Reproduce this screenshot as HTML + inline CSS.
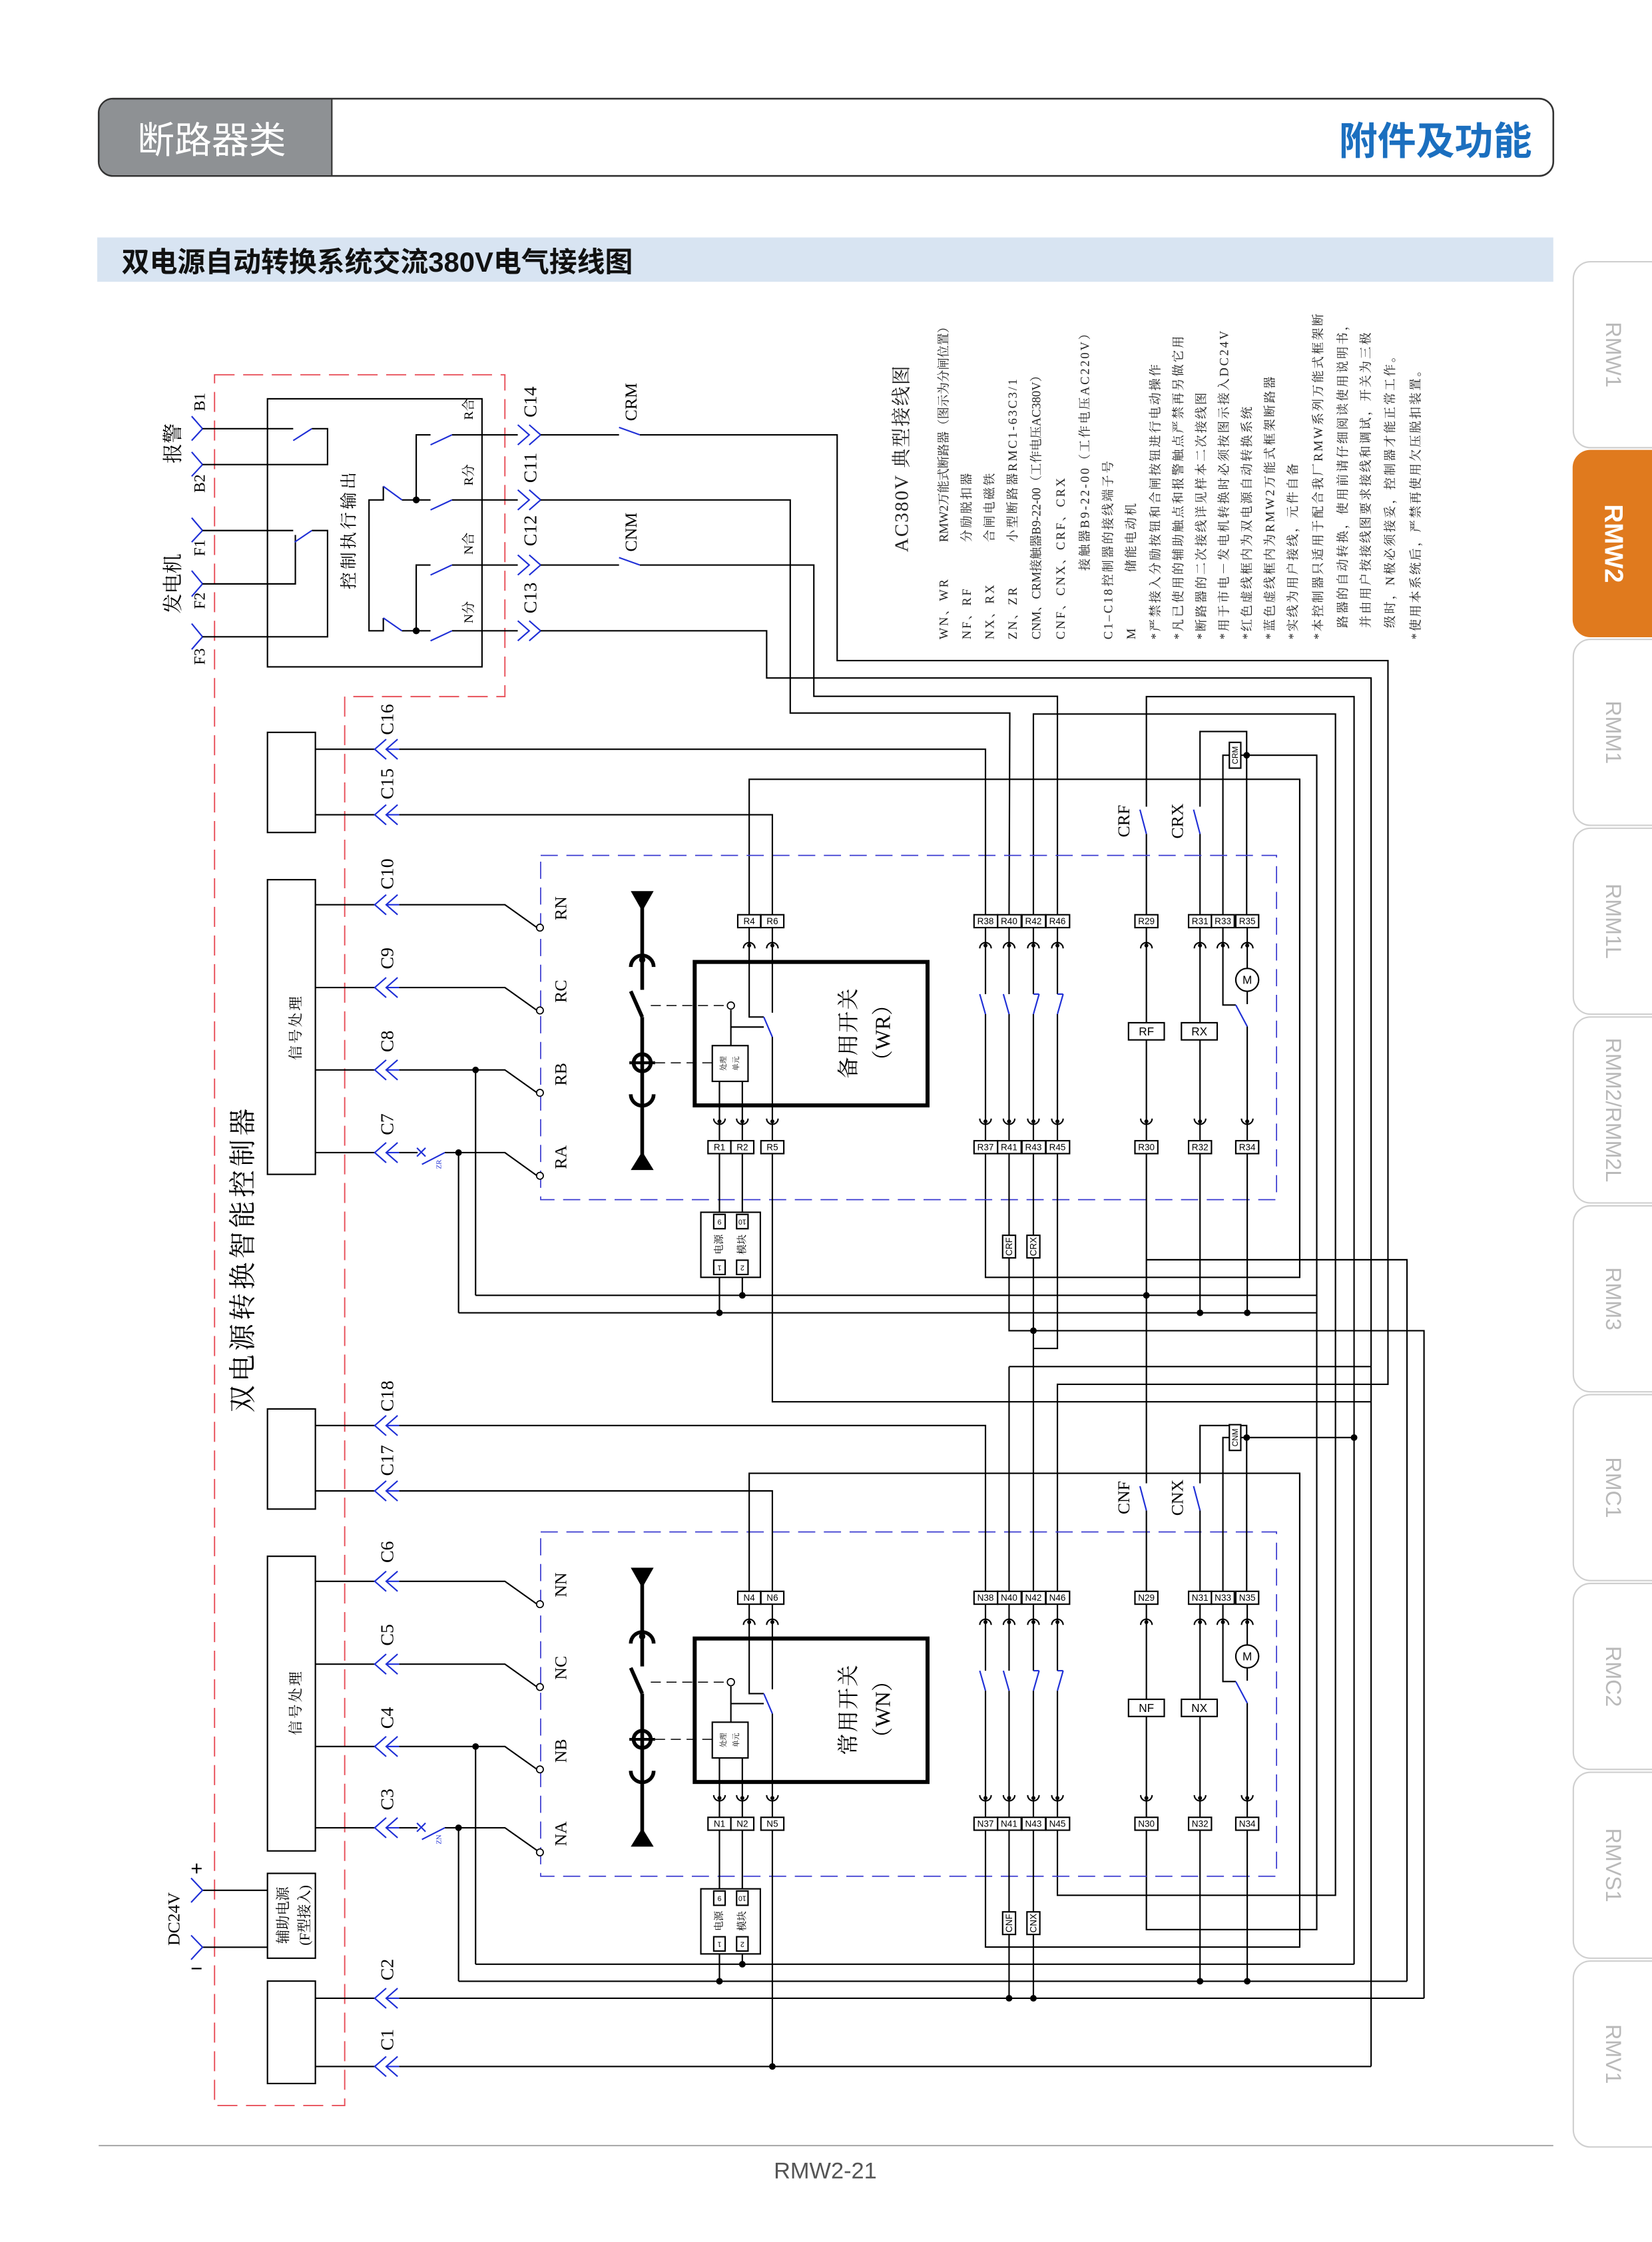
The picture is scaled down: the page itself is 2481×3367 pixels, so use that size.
<!DOCTYPE html>
<html><head><meta charset="utf-8"><style>
html,body{margin:0;padding:0;background:#fff;}
svg{display:block;}
.k{stroke:#000;stroke-width:1;fill:none}
.kw{stroke:#000;stroke-width:1;fill:#fff}
.bl{stroke:#1f2fd6;stroke-width:1;fill:none}
.bd{stroke:#3a3ad0;stroke-width:0.8;fill:none;stroke-dasharray:12 6}
.rd{stroke:#e8505a;stroke-width:0.9;fill:none;stroke-dasharray:14 6}
.se{font-family:"Liberation Serif","Noto Serif CJK SC",serif}
.sa{font-family:"Liberation Sans","Noto Sans CJK SC",sans-serif}
.tl{font-family:"Liberation Sans",sans-serif;font-size:6.3px;text-anchor:middle;dominant-baseline:central}
.ls{letter-spacing:1.3px}
</style></head><body>
<svg width="2481" height="3367" viewBox="0 0 1155 1567.4" preserveAspectRatio="none" xmlns="http://www.w3.org/2000/svg">
<defs>
<g id="tt"><path class="k" d="M-4,4 a4,4 0 0 1 8,0"/><circle cx="0" cy="2" r="1.4" fill="#000"/></g>
<g id="tb"><path class="k" d="M-4,-4 a4,4 0 0 0 8,0"/><circle cx="0" cy="-2" r="1.4" fill="#000"/></g>
<g id="chev"><polyline class="bl" points="8,-7 0,0 8,7"/><polyline class="bl" points="16,-7 8,0 16,7"/><line class="bl" x1="8" y1="0" x2="17" y2="0"/></g>
<g id="sec">
<rect class="bd" x="378" y="598" width="514.5" height="240.7"/>
<g fill="#fff" stroke="#000" stroke-width="0.8"><circle cx="377.5" cy="648.5" r="2.4"/><circle cx="377.5" cy="706.4" r="2.4"/><circle cx="377.5" cy="764" r="2.4"/><circle cx="377.5" cy="822" r="2.4"/></g>
<polygon points="441,623 457,623 449,637" fill="#000"/>
<polygon points="441,818 457,818 449,805" fill="#000"/>
<g stroke="#000" stroke-width="2.6" fill="none">
<line x1="449" y1="630" x2="449" y2="692"/>
<line x1="441" y1="693" x2="449" y2="711"/>
<line x1="449" y1="711" x2="449" y2="812"/>
<path d="M441,676 a8,8 0 0 1 16,0"/>
<path d="M441,765 a8,8 0 0 0 16,0"/>
<circle cx="449" cy="743" r="6"/>
</g>
<circle cx="449" cy="671" r="2.2" fill="#000"/>
<line x1="440" y1="743" x2="458" y2="743" stroke="#000" stroke-width="2"/>
<line x1="455" y1="703" x2="508" y2="703" stroke="#000" stroke-width="0.7" stroke-dasharray="7 4"/>
<line x1="458" y1="743" x2="498" y2="743" stroke="#000" stroke-width="0.7" stroke-dasharray="7 4"/>
<circle cx="511" cy="703" r="2.5" fill="#fff" stroke="#000" stroke-width="0.8"/>
<rect x="485.7" y="672.5" width="162.8" height="100.3" fill="none" stroke="#000" stroke-width="2.8"/>
<rect x="498" y="731" width="25" height="25" class="kw" stroke-width="0.8"/>
<line class="k" x1="511" y1="706" x2="511" y2="731"/>
<line class="k" x1="511" y1="718" x2="534" y2="718"/>
<polyline class="k" points="523.8,648.5 523.8,711 534,711"/>
<line class="bl" x1="534" y1="711" x2="540" y2="725"/>
<line class="k" x1="540" y1="648.5" x2="540" y2="708"/>
<line class="k" x1="540" y1="725" x2="540" y2="797.5"/>
<line class="k" x1="503" y1="756" x2="503" y2="797.5"/>
<line class="k" x1="519" y1="756" x2="519" y2="797.5"/>
<g class="k">
<line x1="689" y1="648.5" x2="689" y2="695"/><line x1="689" y1="709" x2="689" y2="797.5"/>
<line x1="705.5" y1="648.5" x2="705.5" y2="695"/><line x1="705.5" y1="709" x2="705.5" y2="797.5"/>
<line x1="722.5" y1="648.5" x2="722.5" y2="695"/><line x1="722.5" y1="709" x2="722.5" y2="797.5"/>
<line x1="739.3" y1="648.5" x2="739.3" y2="695"/><line x1="739.3" y1="709" x2="739.3" y2="797.5"/>
<line x1="801.5" y1="648.5" x2="801.5" y2="715"/><line x1="801.5" y1="727" x2="801.5" y2="797.5"/>
<line x1="839" y1="648.5" x2="839" y2="715"/><line x1="839" y1="727" x2="839" y2="797.5"/>
<polyline points="855,648.5 855,702.6 864,702.6"/>
<line x1="872" y1="648.5" x2="872" y2="677"/><line x1="872" y1="693" x2="872" y2="702"/><line x1="872" y1="717.6" x2="872" y2="797.5"/>
</g>
<g class="bl">
<line x1="685" y1="695" x2="689" y2="709"/><line x1="701.5" y1="695" x2="705.5" y2="709"/>
<line x1="722.5" y1="695" x2="726.5" y2="695"/><line x1="726.5" y1="695" x2="722.5" y2="709"/>
<line x1="739.3" y1="695" x2="743.3" y2="695"/><line x1="743.3" y1="695" x2="739.3" y2="709"/>
<line x1="864" y1="702.6" x2="872" y2="717.6"/>
</g>
<circle cx="872" cy="685" r="8" class="kw"/>
<rect x="789" y="715" width="25" height="12" class="kw"/>
<rect x="826" y="715" width="25" height="12" class="kw"/>
<use href="#tt" x="523.8" y="659"/><use href="#tt" x="540" y="659"/>
<use href="#tt" x="689" y="659"/><use href="#tt" x="705.5" y="659"/><use href="#tt" x="722.5" y="659"/><use href="#tt" x="739.3" y="659"/>
<use href="#tt" x="801.5" y="659"/><use href="#tt" x="839" y="659"/><use href="#tt" x="855" y="659"/><use href="#tt" x="872" y="659"/>
<use href="#tb" x="503" y="786"/><use href="#tb" x="519" y="786"/><use href="#tb" x="540" y="786"/>
<use href="#tb" x="689" y="786"/><use href="#tb" x="705.5" y="786"/><use href="#tb" x="722.5" y="786"/><use href="#tb" x="739.3" y="786"/>
<use href="#tb" x="801.5" y="786"/><use href="#tb" x="839" y="786"/><use href="#tb" x="872" y="786"/>
<g class="kw" stroke-width="0.7">
<rect x="515.8" y="639.5" width="16" height="9"/><rect x="532" y="639.5" width="16" height="9"/>
<rect x="681" y="639.5" width="16.5" height="9"/><rect x="697.5" y="639.5" width="16.5" height="9"/><rect x="714.5" y="639.5" width="16.5" height="9"/><rect x="731.3" y="639.5" width="16.5" height="9"/>
<rect x="793.5" y="639.5" width="16" height="9"/>
<rect x="831" y="639.5" width="16" height="9"/><rect x="847" y="639.5" width="16" height="9"/><rect x="864" y="639.5" width="16" height="9"/>
<rect x="495" y="797.5" width="16" height="9"/><rect x="511" y="797.5" width="16" height="9"/><rect x="532" y="797.5" width="16" height="9"/>
<rect x="681" y="797.5" width="16.5" height="9"/><rect x="697.5" y="797.5" width="16.5" height="9"/><rect x="714.5" y="797.5" width="16.5" height="9"/><rect x="731.3" y="797.5" width="16.5" height="9"/>
<rect x="793.5" y="797.5" width="16" height="9"/><rect x="831" y="797.5" width="16" height="9"/><rect x="864" y="797.5" width="16" height="9"/>
</g>
</g>
<g id="mod">
<rect x="490" y="847.5" width="41.6" height="45.5" class="kw"/>
<rect x="499" y="849" width="8" height="10" class="kw" stroke-width="0.6"/><rect x="515" y="849" width="8" height="10" class="kw" stroke-width="0.6"/>
<rect x="499" y="881" width="8" height="10" class="kw" stroke-width="0.6"/><rect x="515" y="881" width="8" height="10" class="kw" stroke-width="0.6"/>
</g>
</defs>

<rect x="69" y="69" width="1017" height="54" rx="10" fill="#fff" stroke="#333" stroke-width="1.2"/>
<path d="M79,69.6 H232 V122.4 H79 A9.5,9.5 0 0 1 69.6,113 V79 A9.5,9.5 0 0 1 79,69.6 Z" fill="#8e9194"/>
<line x1="232" y1="69" x2="232" y2="123" stroke="#333" stroke-width="1"/>
<text x="96" y="107" class="sa" font-size="26" fill="#fff">断路器类</text>
<text x="1071" y="108" class="sa" font-size="27" font-weight="bold" fill="#1b6fbf" text-anchor="end">附件及功能</text>
<rect x="68" y="166" width="1018" height="31" fill="#d8e4f2"/>
<text x="85" y="190" class="sa" font-size="19.5" font-weight="bold" fill="#111">双电源自动转换系统交流380V电气接线图</text>

<g class="sa" font-size="15" fill="#b9b9b9">
<path d="M1160,183 H1112 A12,12 0 0 0 1100,195 V301 A12,12 0 0 0 1112,313 H1160" fill="#fff" stroke="#cfcfcf"/>
<path d="M1160,315 H1112 A12,12 0 0 0 1100,327 V433 A12,12 0 0 0 1112,445 H1160" fill="#e07a1e" stroke="#e07a1e"/>
<path d="M1160,447 H1112 A12,12 0 0 0 1100,459 V565 A12,12 0 0 0 1112,577 H1160" fill="#fff" stroke="#cfcfcf"/>
<path d="M1160,579 H1112 A12,12 0 0 0 1100,591 V697 A12,12 0 0 0 1112,709 H1160" fill="#fff" stroke="#cfcfcf"/>
<path d="M1160,711 H1112 A12,12 0 0 0 1100,723 V829 A12,12 0 0 0 1112,841 H1160" fill="#fff" stroke="#cfcfcf"/>
<path d="M1160,843 H1112 A12,12 0 0 0 1100,855 V961 A12,12 0 0 0 1112,973 H1160" fill="#fff" stroke="#cfcfcf"/>
<path d="M1160,975 H1112 A12,12 0 0 0 1100,987 V1093 A12,12 0 0 0 1112,1105 H1160" fill="#fff" stroke="#cfcfcf"/>
<path d="M1160,1107 H1112 A12,12 0 0 0 1100,1119 V1225 A12,12 0 0 0 1112,1237 H1160" fill="#fff" stroke="#cfcfcf"/>
<path d="M1160,1239 H1112 A12,12 0 0 0 1100,1251 V1357 A12,12 0 0 0 1112,1369 H1160" fill="#fff" stroke="#cfcfcf"/>
<path d="M1160,1371 H1112 A12,12 0 0 0 1100,1383 V1489 A12,12 0 0 0 1112,1501 H1160" fill="#fff" stroke="#cfcfcf"/>
<g text-anchor="middle" dominant-baseline="central">
<text transform="translate(1128,248) rotate(90)">RMW1</text>
<text transform="translate(1128,380) rotate(90)" fill="#fff" font-weight="bold" font-size="18">RMW2</text>
<text transform="translate(1128,512) rotate(90)">RMM1</text>
<text transform="translate(1128,644) rotate(90)">RMM1L</text>
<text transform="translate(1128,776) rotate(90)">RMM2/RMM2L</text>
<text transform="translate(1128,908) rotate(90)">RMM3</text>
<text transform="translate(1128,1040) rotate(90)">RMC1</text>
<text transform="translate(1128,1172) rotate(90)">RMC2</text>
<text transform="translate(1128,1304) rotate(90)">RMVS1</text>
<text transform="translate(1128,1436) rotate(90)">RMV1</text>
</g></g>

<line x1="69" y1="1500" x2="1086" y2="1500" stroke="#999" stroke-width="0.8"/>
<text x="577" y="1523" class="sa" font-size="16" fill="#555" text-anchor="middle">RMW2-21</text>

<path class="rd" d="M150,262 H353 V487 H241 V1472 H150 Z"/>

<rect x="187" y="278.8" width="150" height="187.4" class="k"/>
<g class="bl">
<polyline points="134,291 141.6,299.7 134,308"/><polyline points="134,316 141.6,324.8 134,333"/>
<polyline points="134,362 141.6,370.9 134,379"/><polyline points="134,399 141.6,408.2 134,417"/>
<polyline points="134,436 141.6,445.2 134,454"/>
</g>
<g class="k">
<polyline points="141.6,299.7 205,299.7"/><polyline points="218,299.7 229,299.7 229,324.8 141.6,324.8"/>
<polyline points="141.6,370.9 205,370.9"/><polyline points="218,370.9 229,370.9 229,445.2 141.6,445.2"/>
<polyline points="141.6,408.2 206.5,408.2 206.5,374"/>
</g>
<g class="bl"><line x1="205" y1="308" x2="218" y2="299.7"/><line x1="206" y1="379" x2="218" y2="370.9"/></g>
<g class="k">
<polyline points="301,304 291,304 291,349.5 301,349.5"/>
<polyline points="301,395 291,395 291,441 301,441"/>
<polyline points="291,349.5 281,349.5"/><polyline points="291,441 281,441"/>
<polyline points="268,340 268,349.5 258,349.5 258,441 268,441 268,432"/>
<line x1="316" y1="304" x2="362" y2="304"/><line x1="316" y1="349.5" x2="362" y2="349.5"/>
<line x1="316" y1="395" x2="362" y2="395"/><line x1="316" y1="441" x2="362" y2="441"/>
</g>
<g class="bl">
<line x1="301" y1="311" x2="316" y2="304"/><line x1="301" y1="356.5" x2="316" y2="349.5"/>
<line x1="301" y1="402" x2="316" y2="395"/><line x1="301" y1="448" x2="316" y2="441"/>
<line x1="268" y1="340" x2="281" y2="349.5"/><line x1="268" y1="432" x2="281" y2="441"/>
</g>
<circle cx="291" cy="349.5" r="2.4"/><circle cx="291" cy="441" r="2.4"/>
<g class="bl">
<polyline points="362,297 370,304 362,311"/><polyline points="370,297 378,304 370,311"/>
<polyline points="362,342.5 370,349.5 362,356.5"/><polyline points="370,342.5 378,349.5 370,356.5"/>
<polyline points="362,388 370,395 362,402"/><polyline points="370,388 378,395 370,402"/>
<polyline points="362,434 370,441 362,448"/><polyline points="370,434 378,441 370,448"/>
</g>
<g class="se" text-anchor="middle" dominant-baseline="central">
<text transform="translate(140,281) rotate(-90)" font-size="11">B1</text>
<text transform="translate(140,338) rotate(-90)" font-size="11">B2</text>
<text transform="translate(140,383) rotate(-90)" font-size="11">F1</text>
<text transform="translate(140,420) rotate(-90)" font-size="11">F2</text>
<text transform="translate(140,459) rotate(-90)" font-size="11">F3</text>
<text transform="translate(121,310) rotate(-90)" font-size="14">报警</text>
<text transform="translate(121,408) rotate(-90)" font-size="14">发电机</text>
<text transform="translate(244,370) rotate(-90)" font-size="12" letter-spacing="2">控制执行输出</text>
<text transform="translate(328,286) rotate(-90)" font-size="9">R合</text>
<text transform="translate(328,332) rotate(-90)" font-size="9">R分</text>
<text transform="translate(328,380) rotate(-90)" font-size="9">N合</text>
<text transform="translate(328,428) rotate(-90)" font-size="9">N分</text>
<text transform="translate(371,281) rotate(-90)" font-size="13">C14</text>
<text transform="translate(371,327) rotate(-90)" font-size="13">C11</text>
<text transform="translate(371,371) rotate(-90)" font-size="13">C12</text>
<text transform="translate(371,418) rotate(-90)" font-size="13">C13</text>
<text transform="translate(441,281) rotate(-90)" font-size="12">CRM</text>
<text transform="translate(441,372) rotate(-90)" font-size="12">CNM</text>
</g>

<g class="k">
<polyline points="378,304 432.8,304"/><polyline points="447.3,304 585.3,304 585.3,461.8 970.4,461.8 970.4,967.8 739.3,967.8 739.3,1112.5"/>
<polyline points="378,349.5 552.5,349.5 552.5,498.5 706,498.5 705.5,639.5"/>
<polyline points="378,395 432.8,395"/><polyline points="447.3,395 569,395 569,486.8 739.3,486.8 739.3,639.5"/>
<polyline points="378,441 536,441 536,474 958.6,474 958.6,1444.7"/>
<polyline points="722.5,639.5 722.5,499.2 933.7,499.2 933.7,1325 739.3,1325 739.3,1279.5"/>
<polyline points="801.5,564 801.5,487 946.7,487 946.7,1373.2"/>
<polyline points="801.5,583 801.5,639.5"/>
<polyline points="839,639.5 839,583"/><polyline points="839,564 839,511.4 871.6,511.4 871.6,639.5"/>
<polyline points="855,639.5 855,528 859.5,528"/><polyline points="867.4,528 920.6,528 920.6,1349 801.5,1349 801.5,1279.5"/>
<polyline points="523.8,639.5 523.8,544.8 908.7,544.8 908.7,893 689,893 689,806.5"/>
</g>
<g class="bl"><line x1="432.8" y1="298.8" x2="447.3" y2="304"/><line x1="432.8" y1="389.8" x2="447.3" y2="395"/>
<line x1="797" y1="566" x2="801.5" y2="583"/><line x1="834.5" y1="566" x2="839" y2="583"/>
<line x1="797" y1="1039" x2="801.5" y2="1056"/><line x1="834.5" y1="1039" x2="839" y2="1056"/></g>
<rect x="859.5" y="519" width="8" height="18" class="kw" stroke-width="0.7"/>
<circle cx="871.6" cy="528" r="2.3"/>

<use href="#sec"/>
<use href="#sec" y="473"/>

<g class="k">
<polyline points="220.5,523.8 262,523.8"/><polyline points="279,523.8 689,523.8 689,639.5"/>
<polyline points="220.5,569.6 262,569.6"/><polyline points="279,569.6 540,569.6 540,639.5"/>
<polyline points="503,806.5 503,917.8"/><polyline points="519,806.5 519,905.6"/>
<polyline points="540,806.5 540,980 958.6,980"/>
<polyline points="705.5,806.5 705.5,930.3 995.6,930.3 995.6,1397"/>
<polyline points="722.5,806.5 722.5,1112.5"/>
<polyline points="739.3,806.5 739.3,942.7 722.5,942.7"/>
<polyline points="801.5,806.5 801.5,1037"/><polyline points="801.5,1056 801.5,1112.5"/>
<polyline points="801.5,880.7 983.7,880.7 983.7,1385.1"/>
<polyline points="839,806.5 839,917.8"/><polyline points="872,806.5 872,917.8"/>
<polyline points="332.5,905.6 920.6,905.6"/><polyline points="320.6,917.8 920.6,917.8"/>
<polyline points="705.5,955.4 958.6,955.4"/><polyline points="705.5,955.4 705.5,1112.5"/>
<polyline points="220.5,996.6 262,996.6"/><polyline points="279,996.6 689,996.6 689,1112.5"/>
<polyline points="220.5,1042.3 262,1042.3"/><polyline points="279,1042.3 540,1042.3 540,1112.5"/>
<polyline points="523.8,1112.5 523.8,1030 908.7,1030 908.7,1361.2 689,1361.2 689,1279.5"/>
<polyline points="839,1112.5 839,1056"/><polyline points="839,1037 839,996.6 871.6,996.6 871.6,1112.5"/>
<polyline points="855,1112.5 855,1005 859.5,1005"/><polyline points="867.4,1005 946.7,1005"/>
<polyline points="503,1279.5 503,1385.1"/><polyline points="519,1279.5 519,1373.2"/>
<polyline points="540,1279.5 540,1444.7"/>
<polyline points="705.5,1279.5 705.5,1397"/><polyline points="722.5,1279.5 722.5,1397"/>
<polyline points="839,1279.5 839,1385.1"/><polyline points="872,1279.5 872,1385.1"/>
<polyline points="332.5,1373.2 946.7,1373.2"/><polyline points="320.6,1385.1 983.7,1385.1"/>
<polyline points="220.5,1397 262,1397"/><polyline points="279,1397 995.6,1397"/>
<polyline points="220.5,1444.7 262,1444.7"/><polyline points="279,1444.7 958.6,1444.7"/>
</g>
<rect x="859.5" y="996" width="8" height="18" class="kw" stroke-width="0.7"/>

<use href="#mod"/><use href="#mod" y="473"/>
<g class="kw" stroke-width="0.8">
<rect x="701" y="863.6" width="9" height="15.8"/><rect x="718" y="863.6" width="9" height="15.8"/>
<rect x="701" y="1336.6" width="9" height="15.8"/><rect x="718" y="1336.6" width="9" height="15.8"/>
</g>

<g class="k">
<rect x="187" y="512" width="33.5" height="70"/>
<rect x="187" y="615" width="33.5" height="206"/>
<rect x="187" y="985" width="33.5" height="70"/>
<rect x="187" y="1088" width="33.5" height="206"/>
<rect x="187" y="1309.7" width="33.5" height="59.3"/>
<rect x="187" y="1385" width="33.5" height="71.6"/>
<polyline points="141.6,1321.5 187,1321.5"/><polyline points="141.6,1361.3 187,1361.3"/>
</g>
<g class="bl"><polyline points="133.6,1313 141.6,1321.5 133.6,1330"/><polyline points="133.6,1353 141.6,1361.3 133.6,1370"/></g>
<g class="k">
<polyline points="220.5,632.5 262,632.5"/><polyline points="279,632.5 353,632.5 375.5,648.5"/>
<polyline points="220.5,690.4 262,690.4"/><polyline points="279,690.4 353,690.4 375.5,706.4"/>
<polyline points="220.5,748 262,748"/><polyline points="279,748 353,748 375.5,764"/>
<polyline points="220.5,805.8 262,805.8"/><polyline points="279,805.8 292,805.8"/><polyline points="311,805.8 353,805.8 375.5,822"/>
<polyline points="332.5,748 332.5,905.6"/><polyline points="320.6,805.8 320.6,917.8"/>
<polyline points="220.5,1105.5 262,1105.5"/><polyline points="279,1105.5 353,1105.5 375.5,1121.5"/>
<polyline points="220.5,1163.4 262,1163.4"/><polyline points="279,1163.4 353,1163.4 375.5,1179.4"/>
<polyline points="220.5,1221 262,1221"/><polyline points="279,1221 353,1221 375.5,1237"/>
<polyline points="220.5,1277.8 262,1277.8"/><polyline points="279,1277.8 292,1277.8"/><polyline points="311,1277.8 353,1277.8 375.5,1293.7"/>
<polyline points="332.5,1221 332.5,1373.2"/><polyline points="320.6,1277.8 320.6,1385.1"/>
</g>
<g class="bl">
<line x1="295" y1="814" x2="311" y2="805.8"/><path d="M291.5,802.5 l6,6 M297.5,802.5 l-6,6"/>
<line x1="295" y1="1286" x2="311" y2="1277.8"/><path d="M291.5,1274.5 l6,6 M297.5,1274.5 l-6,6"/>
</g>
<g>
<use href="#chev" x="262" y="523.8"/><use href="#chev" x="262" y="569.6"/>
<use href="#chev" x="262" y="632.5"/><use href="#chev" x="262" y="690.4"/><use href="#chev" x="262" y="748"/><use href="#chev" x="262" y="805.8"/>
<use href="#chev" x="262" y="996.6"/><use href="#chev" x="262" y="1042.3"/>
<use href="#chev" x="262" y="1105.5"/><use href="#chev" x="262" y="1163.4"/><use href="#chev" x="262" y="1221"/><use href="#chev" x="262" y="1277.8"/>
<use href="#chev" x="262" y="1397"/><use href="#chev" x="262" y="1444.7"/>
</g>

<g fill="#000">
<circle cx="332.5" cy="748" r="2.3"/><circle cx="320.6" cy="805.8" r="2.3"/>
<circle cx="332.5" cy="1221" r="2.3"/><circle cx="320.6" cy="1277.8" r="2.3"/>
<circle cx="519" cy="905.6" r="2.3"/><circle cx="801.5" cy="905.6" r="2.3"/>
<circle cx="503" cy="917.8" r="2.3"/><circle cx="839" cy="917.8" r="2.3"/><circle cx="872" cy="917.8" r="2.3"/>
<circle cx="722.5" cy="930.3" r="2.3"/>
<circle cx="871.6" cy="1005" r="2.3"/><circle cx="946.7" cy="1005" r="2.3"/>
<circle cx="519" cy="1373.2" r="2.3"/>
<circle cx="503" cy="1385.1" r="2.3"/><circle cx="839" cy="1385.1" r="2.3"/><circle cx="872" cy="1385.1" r="2.3"/>
<circle cx="705.5" cy="1397" r="2.3"/><circle cx="722.5" cy="1397" r="2.3"/>
<circle cx="540" cy="1444.7" r="2.3"/>
</g>

<g class="se" text-anchor="middle" dominant-baseline="central">
<text transform="translate(170,880) rotate(-90)" font-size="19" letter-spacing="2.5">双电源转换智能控制器</text>
<text transform="translate(207,718) rotate(-90)" font-size="10" letter-spacing="1.5">信号处理</text>
<text transform="translate(207,1190) rotate(-90)" font-size="10" letter-spacing="1.5">信号处理</text>
<text transform="translate(198,1339) rotate(-90)" font-size="10">辅助电源</text>
<text transform="translate(213,1339) rotate(-90)" font-size="10">(F型接入)</text>
<text transform="translate(121.5,1341.6) rotate(-90)" font-size="12">DC24V</text>
<text x="137.5" y="1306" font-size="15" font-weight="bold">+</text>
<text x="137.5" y="1376" font-size="15" font-weight="bold">−</text>
<text transform="translate(271,503) rotate(-90)" font-size="13">C16</text>
<text transform="translate(271,548) rotate(-90)" font-size="13">C15</text>
<text transform="translate(271,611) rotate(-90)" font-size="13">C10</text>
<text transform="translate(271,670) rotate(-90)" font-size="13">C9</text>
<text transform="translate(271,728) rotate(-90)" font-size="13">C8</text>
<text transform="translate(271,786) rotate(-90)" font-size="13">C7</text>
<text transform="translate(271,976) rotate(-90)" font-size="13">C18</text>
<text transform="translate(271,1021) rotate(-90)" font-size="13">C17</text>
<text transform="translate(271,1085) rotate(-90)" font-size="13">C6</text>
<text transform="translate(271,1143) rotate(-90)" font-size="13">C5</text>
<text transform="translate(271,1201) rotate(-90)" font-size="13">C4</text>
<text transform="translate(271,1258) rotate(-90)" font-size="13">C3</text>
<text transform="translate(271,1377) rotate(-90)" font-size="13">C2</text>
<text transform="translate(271,1426) rotate(-90)" font-size="13">C1</text>
<text transform="translate(307,814) rotate(-90)" font-size="5" fill="#1f2fd6">ZR</text>
<text transform="translate(307,1286) rotate(-90)" font-size="5" fill="#1f2fd6">ZN</text>
<text transform="translate(392,635) rotate(-90)" font-size="12">RN</text>
<text transform="translate(392,693) rotate(-90)" font-size="12">RC</text>
<text transform="translate(392,751) rotate(-90)" font-size="12">RB</text>
<text transform="translate(392,809) rotate(-90)" font-size="12">RA</text>
<text transform="translate(392,1108) rotate(-90)" font-size="12">NN</text>
<text transform="translate(392,1166) rotate(-90)" font-size="12">NC</text>
<text transform="translate(392,1224) rotate(-90)" font-size="12">NB</text>
<text transform="translate(392,1282) rotate(-90)" font-size="12">NA</text>
<text transform="translate(593,722) rotate(-90)" font-size="15" letter-spacing="1">备用开关</text>
<text transform="translate(617,722) rotate(-90)" font-size="15">（WR）</text>
<text transform="translate(593,1195) rotate(-90)" font-size="15" letter-spacing="1">常用开关</text>
<text transform="translate(617,1195) rotate(-90)" font-size="15">（WN）</text>
<text transform="translate(506,743.5) rotate(-90)" font-size="5">处理</text>
<text transform="translate(515,743.5) rotate(-90)" font-size="5">单元</text>
<text transform="translate(506,1216.5) rotate(-90)" font-size="5">处理</text>
<text transform="translate(515,1216.5) rotate(-90)" font-size="5">单元</text>
<text transform="translate(503,870) rotate(-90)" font-size="7">电源</text>
<text transform="translate(519,870) rotate(-90)" font-size="7">模块</text>
<text transform="translate(503,1343) rotate(-90)" font-size="7">电源</text>
<text transform="translate(519,1343) rotate(-90)" font-size="7">模块</text>
<text transform="translate(785.6,574) rotate(-90)" font-size="12">CRF</text>
<text transform="translate(823,574) rotate(-90)" font-size="12">CRX</text>
<text transform="translate(785.6,1047) rotate(-90)" font-size="12">CNF</text>
<text transform="translate(823,1047) rotate(-90)" font-size="12">CNX</text>
</g>
<g class="tl">
<text x="523.8" y="644">R4</text><text x="540" y="644">R6</text>
<text x="689" y="644">R38</text><text x="705.5" y="644">R40</text><text x="722.5" y="644">R42</text><text x="739.3" y="644">R46</text>
<text x="801.5" y="644">R29</text><text x="839" y="644">R31</text><text x="855" y="644">R33</text><text x="872" y="644">R35</text>
<text x="503" y="802">R1</text><text x="519" y="802">R2</text><text x="540" y="802">R5</text>
<text x="689" y="802">R37</text><text x="705.5" y="802">R41</text><text x="722.5" y="802">R43</text><text x="739.3" y="802">R45</text>
<text x="801.5" y="802">R30</text><text x="839" y="802">R32</text><text x="872" y="802">R34</text>
<text x="523.8" y="1117">N4</text><text x="540" y="1117">N6</text>
<text x="689" y="1117">N38</text><text x="705.5" y="1117">N40</text><text x="722.5" y="1117">N42</text><text x="739.3" y="1117">N46</text>
<text x="801.5" y="1117">N29</text><text x="839" y="1117">N31</text><text x="855" y="1117">N33</text><text x="872" y="1117">N35</text>
<text x="503" y="1275">N1</text><text x="519" y="1275">N2</text><text x="540" y="1275">N5</text>
<text x="689" y="1275">N37</text><text x="705.5" y="1275">N41</text><text x="722.5" y="1275">N43</text><text x="739.3" y="1275">N45</text>
<text x="801.5" y="1275">N30</text><text x="839" y="1275">N32</text><text x="872" y="1275">N34</text>
<text x="801.5" y="721" font-size="8">RF</text><text x="838.5" y="721" font-size="8">RX</text>
<text x="801.5" y="1194" font-size="8">NF</text><text x="838.5" y="1194" font-size="8">NX</text>
<text x="872" y="685" font-size="8">M</text><text x="872" y="1158" font-size="8">M</text>
<text transform="translate(705.5,871.5) rotate(-90)">CRF</text><text transform="translate(722.5,871.5) rotate(-90)">CRX</text>
<text transform="translate(705.5,1344.5) rotate(-90)">CNF</text><text transform="translate(722.5,1344.5) rotate(-90)">CNX</text>
<text transform="translate(863.5,528) rotate(-90)" font-size="5.5">CRM</text>
<text transform="translate(863.5,1005) rotate(-90)" font-size="5.5">CNM</text>
<text transform="translate(503,854) rotate(180)" font-size="5">9</text><text transform="translate(519,854) rotate(180)" font-size="5">10</text>
<text transform="translate(503,886) rotate(180)" font-size="5">1</text><text transform="translate(519,886) rotate(180)" font-size="5">2</text>
<text transform="translate(503,1327) rotate(180)" font-size="5">9</text><text transform="translate(519,1327) rotate(180)" font-size="5">10</text>
<text transform="translate(503,1359) rotate(180)" font-size="5">1</text><text transform="translate(519,1359) rotate(180)" font-size="5">2</text>
</g>

<g class="se" dominant-baseline="central" fill="#222">
<text transform="translate(630.6,386) rotate(-90)" font-size="13.5" letter-spacing="1">AC380V 典型接线图</text>
<g font-size="8.6">
<text class="ls" transform="translate(660,447) rotate(-90)">WN、WR</text>
<text transform="translate(660,379) rotate(-90)">RMW2万能式断路器（图示为分闸位置）</text>
<text class="ls" transform="translate(676,447) rotate(-90)">NF、RF</text>
<text class="ls" transform="translate(676,379) rotate(-90)">分励脱扣器</text>
<text class="ls" transform="translate(692,447) rotate(-90)">NX、RX</text>
<text class="ls" transform="translate(692,379) rotate(-90)">合闸电磁铁</text>
<text class="ls" transform="translate(708,447) rotate(-90)">ZN、ZR</text>
<text class="ls" transform="translate(708,379) rotate(-90)">小型断路器RMC1-63C3/1</text>
<text transform="translate(724.6,447) rotate(-90)">CNM、CRM接触器B9-22-00（工作电压AC380V）</text>
<text class="ls" transform="translate(741.5,447) rotate(-90)">CNF、CNX、CRF、CRX</text>
<text class="ls" transform="translate(758.5,399) rotate(-90)">接触器B9-22-00（工作电压AC220V）</text>
<text class="ls" transform="translate(775,447) rotate(-90)">C1–C18</text>
<text class="ls" transform="translate(775,410) rotate(-90)">控制器的接线端子号</text>
<text class="ls" transform="translate(791,447) rotate(-90)">M</text>
<text class="ls" transform="translate(791,400) rotate(-90)">储能电动机</text>
<text class="ls" transform="translate(808,447) rotate(-90)">*严禁接入分励按钮和合闸按钮进行电动操作</text>
<text class="ls" transform="translate(824,447) rotate(-90)">*凡已使用的辅助触点和报警触点严禁再另做它用</text>
<text class="ls" transform="translate(840,447) rotate(-90)">*断路器的二次接线详见样本二次接线图</text>
<text class="ls" transform="translate(856,447) rotate(-90)">*用于市电－发电机转换时必须按图示接入DC24V</text>
<text class="ls" transform="translate(872,447) rotate(-90)">*红色虚线框内为双电源自动转换系统</text>
<text class="ls" transform="translate(888,447) rotate(-90)">*蓝色虚线框内为RMW2万能式框架断路器</text>
<text class="ls" transform="translate(904,447) rotate(-90)">*实线为用户接线，元件自备</text>
<text class="ls" transform="translate(921.8,447) rotate(-90)">*本控制器只适用于配合我厂RMW系列万能式框架断</text>
<text class="ls" transform="translate(939,439) rotate(-90)">路器的自动转换，使用前请仔细阅读使用说明书，</text>
<text class="ls" transform="translate(955,439) rotate(-90)">并由用户按接线图要求接线和调试，开关为三极</text>
<text class="ls" transform="translate(972,439) rotate(-90)">级时，N极必须接妥，控制器才能正常工作。</text>
<text class="ls" transform="translate(990,447) rotate(-90)">*使用本系统后，严禁再使用欠压脱扣装置。</text>
</g></g>
</svg>
</body></html>
